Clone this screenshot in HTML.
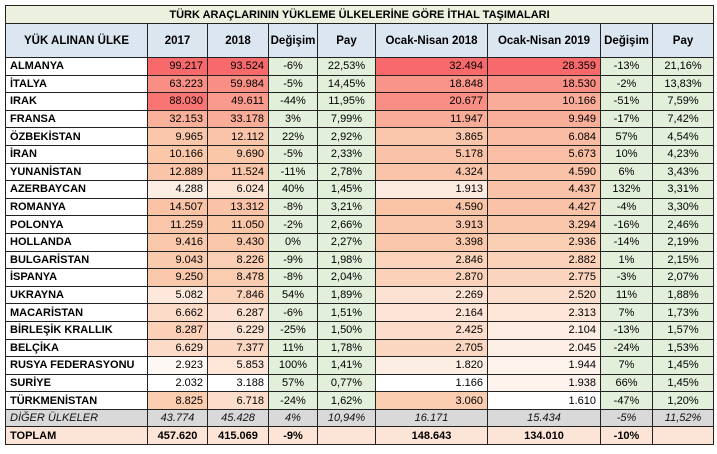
<!DOCTYPE html><html><head><meta charset="utf-8"><style>
body{margin:0;background:#fff;width:717px;height:454px;overflow:hidden}
table{position:absolute;left:5px;top:5px;border-collapse:collapse;font-family:"Liberation Sans",sans-serif;font-size:11px;table-layout:fixed;width:708px}
td{border:1px solid #222;padding:0 4px;height:16.6px;white-space:nowrap;overflow:hidden;line-height:16px}
.t td{background:#EBF1DE;text-align:center;font-weight:bold;height:17px}
.h td{background:#DCE6F1;text-align:center;font-weight:bold;height:33px;font-size:11.5px;padding:0}
td.n{font-weight:bold;text-align:left}
td.r{text-align:right}
td.c{text-align:center;background:#E2EFDA}
tr.d td{background:#D9D9D9;font-style:italic;color:#111;text-align:center}
tr.d td.n{font-weight:normal}
tr.s td{background:#FCE4D6;font-weight:bold;text-align:center}
tr.s td.n{text-align:left}
</style></head><body>
<table id="tb">
<colgroup><col style="width:142px"><col style="width:60px"><col style="width:61px"><col style="width:49px"><col style="width:58px"><col style="width:112px"><col style="width:113px"><col style="width:52px"><col style="width:61px"></colgroup>
<tr class="t"><td colspan="9">TÜRK ARAÇLARININ YÜKLEME ÜLKELERİNE GÖRE İTHAL TAŞIMALARI</td></tr>
<tr class="h"><td>YÜK ALINAN ÜLKE</td><td>2017</td><td>2018</td><td>Değişim</td><td>Pay</td><td>Ocak-Nisan 2018</td><td>Ocak-Nisan 2019</td><td>Değişim</td><td>Pay</td></tr>
</table>
<script>
var rows=[["ALMANYA","99.217","93.524","-6%","22,53%","32.494","28.359","-13%","21,16%"],
["İTALYA","63.223","59.984","-5%","14,45%","18.848","18.530","-2%","13,83%"],
["IRAK","88.030","49.611","-44%","11,95%","20.677","10.166","-51%","7,59%"],
["FRANSA","32.153","33.178","3%","7,99%","11.947","9.949","-17%","7,42%"],
["ÖZBEKİSTAN","9.965","12.112","22%","2,92%","3.865","6.084","57%","4,54%"],
["İRAN","10.166","9.690","-5%","2,33%","5.178","5.673","10%","4,23%"],
["YUNANİSTAN","12.889","11.524","-11%","2,78%","4.324","4.590","6%","3,43%"],
["AZERBAYCAN","4.288","6.024","40%","1,45%","1.913","4.437","132%","3,31%"],
["ROMANYA","14.507","13.312","-8%","3,21%","4.590","4.427","-4%","3,30%"],
["POLONYA","11.259","11.050","-2%","2,66%","3.913","3.294","-16%","2,46%"],
["HOLLANDA","9.416","9.430","0%","2,27%","3.398","2.936","-14%","2,19%"],
["BULGARİSTAN","9.043","8.226","-9%","1,98%","2.846","2.882","1%","2,15%"],
["İSPANYA","9.250","8.478","-8%","2,04%","2.870","2.775","-3%","2,07%"],
["UKRAYNA","5.082","7.846","54%","1,89%","2.269","2.520","11%","1,88%"],
["MACARİSTAN","6.662","6.287","-6%","1,51%","2.164","2.313","7%","1,73%"],
["BİRLEŞİK KRALLIK","8.287","6.229","-25%","1,50%","2.425","2.104","-13%","1,57%"],
["BELÇİKA","6.629","7.377","11%","1,78%","2.705","2.045","-24%","1,53%"],
["RUSYA FEDERASYONU","2.923","5.853","100%","1,41%","1.820","1.944","7%","1,45%"],
["SURİYE","2.032","3.188","57%","0,77%","1.166","1.938","66%","1,45%"],
["TÜRKMENİSTAN","8.825","6.718","-24%","1,62%","3.060","1.610","-47%","1,20%"]];
function mix(a,b,t){return "rgb("+a.map((v,i)=>Math.round(v+(b[i]-v)*t)).join(",")+")"}
var W=[255,255,255],M=[250,200,170],R=[248,105,107];
function col(ci){var v=rows.map(r=>parseFloat(r[ci].replace(".","")));var s=v.slice().sort((a,b)=>a-b);var mn=s[0],mx=s[s.length-1],md=(s[9]+s[10])/2;
return v.map(x=>x<=md?mix(W,M,(x-mn)/(md-mn)):mix(M,R,(x-md)/(mx-md)));}
var cs={1:col(1),2:col(2),5:col(5),6:col(6)};
var tb=document.getElementById("tb"),h="";
rows.forEach((r,i)=>{h+="<tr>";r.forEach((c,j)=>{if(j==0)h+='<td class="n">'+c+"</td>";else if(cs[j])h+='<td class="r" style="background:'+cs[j][i]+'">'+c+"</td>";else h+='<td class="c">'+c+"</td>";});h+="</tr>";});
h+='<tr class="d"><td class="n" style="text-align:left">DİĞER ÜLKELER</td><td>43.774</td><td>45.428</td><td>4%</td><td>10,94%</td><td>16.171</td><td>15.434</td><td>-5%</td><td>11,52%</td></tr>';
h+='<tr class="s"><td class="n">TOPLAM</td><td>457.620</td><td>415.069</td><td>-9%</td><td></td><td>148.643</td><td>134.010</td><td>-10%</td><td></td></tr>';
tb.insertAdjacentHTML("beforeend",h);
</script>
</body></html>
